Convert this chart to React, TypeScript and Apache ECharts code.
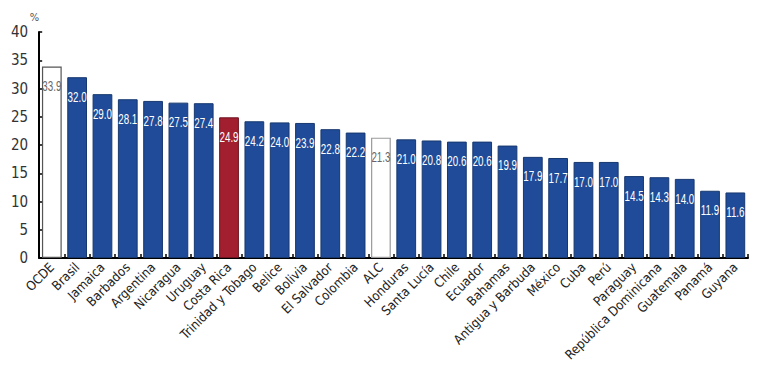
import React, { useEffect, useRef } from "react";
import * as echarts from "echarts";

// Country / aggregate names along the x axis
const categories: string[] = [
  "OCDE", "Brasil", "Jamaica", "Barbados", "Argentina", "Nicaragua", "Uruguay",
  "Costa Rica", "Trinidad y Tobago", "Belice", "Bolivia", "El Salvador", "Colombia",
  "ALC", "Honduras", "Santa Lucía", "Chile", "Ecuador", "Bahamas", "Antigua y Barbuda",
  "México", "Cuba", "Perú", "Paraguay", "República Dominicana", "Guatemala", "Panamá", "Guyana",
];

// Percentage values, one per category
const values: number[] = [
  33.9, 32.0, 29.0, 28.1, 27.8, 27.5, 27.4, 24.9, 24.2, 24.0, 23.9, 22.8, 22.2,
  21.3, 21.0, 20.8, 20.6, 20.6, 19.9, 17.9, 17.7, 17.0, 17.0, 14.5, 14.3, 14.0, 11.9, 11.6,
];

// Aggregates drawn as outlined white bars, the highlighted country in red
const aggregates: string[] = ["OCDE", "ALC"];
const highlighted: string[] = ["Costa Rica"];

const yTicks = { min: 0, max: 40, interval: 5 };

const FONT = "'DejaVu Sans Condensed', 'Liberation Sans', Arial, sans-serif";
const BLUE = "#1f4b98";
const RED = "#a21f30";

export default function App() {
  const ref = useRef<HTMLDivElement>(null);

  useEffect(() => {
    if (!ref.current) return;
    const chart = echarts.init(ref.current, undefined, { renderer: "svg" });

    const data = categories.map((name, i) => {
      const isAgg = aggregates.includes(name);
      const isHi = highlighted.includes(name);
      return {
        value: values[i],
        itemStyle: isAgg
          ? { color: "#ffffff", borderColor: name === "OCDE" ? "#555555" : "#9a9a9a", borderWidth: 1.2 }
          : { color: isHi ? RED : BLUE, borderColor: isHi ? "#6e1420" : "#17386f", borderWidth: 1 },
      };
    });

    // value labels: narrow text placed just inside the top of each bar
    const labelData = categories.map((_, i) => [i, values[i]]);

    chart.setOption({
      animation: false,
      grid: { left: 25, right: 10, top: 24, bottom: 127, containLabel: false },
      xAxis: {
        type: "category",
        data: categories,
        axisLine: { lineStyle: { color: "#000", width: 2 } },
        axisTick: { show: true, inside: true, length: 4, alignWithLabel: false, lineStyle: { color: "#000", width: 1.5 } },
        axisLabel: {
          rotate: 45,
          interval: 0,
          margin: 7,
          color: "#222",
          fontFamily: FONT,
          fontSize: 13,
        },
      },
      yAxis: {
        type: "value",
        min: yTicks.min,
        max: yTicks.max,
        interval: yTicks.interval,
        name: "%",
        nameLocation: "end",
        nameGap: 9,
        nameTextStyle: { color: "#555", fontFamily: FONT, fontSize: 11, align: "right" },
        splitLine: { show: false },
        axisLine: { show: true, lineStyle: { color: "#000", width: 2 } },
        axisTick: { show: true, inside: true, length: 3, lineStyle: { color: "#000", width: 1.5 } },
        axisLabel: { color: "#333", fontFamily: FONT, fontSize: 15, margin: 11 },
      },
      series: [
        {
          type: "bar",
          data,
          barCategoryGap: "22%",
        },
        {
          type: "custom",
          data: labelData,
          z: 5,
          renderItem: (params: any, api: any) => {
            const idx = api.value(0);
            const v = api.value(1);
            const pt = api.coord([idx, v]);
            const isAgg = aggregates.includes(categories[idx]);
            return {
              type: "text",
              x: pt[0],
              y: pt[1] + 20,
              scaleX: 0.7,
              style: {
                text: Number(v).toFixed(1),
                fill: isAgg ? "#666666" : "#ffffff",
                font: "14px 'Liberation Sans', Arial, sans-serif",
                align: "center",
                verticalAlign: "middle",
              },
            };
          },
        },
      ],
    });

    return () => chart.dispose();
  }, []);

  return <div ref={ref} style={{ width: 750, height: 377 }} />;
}
